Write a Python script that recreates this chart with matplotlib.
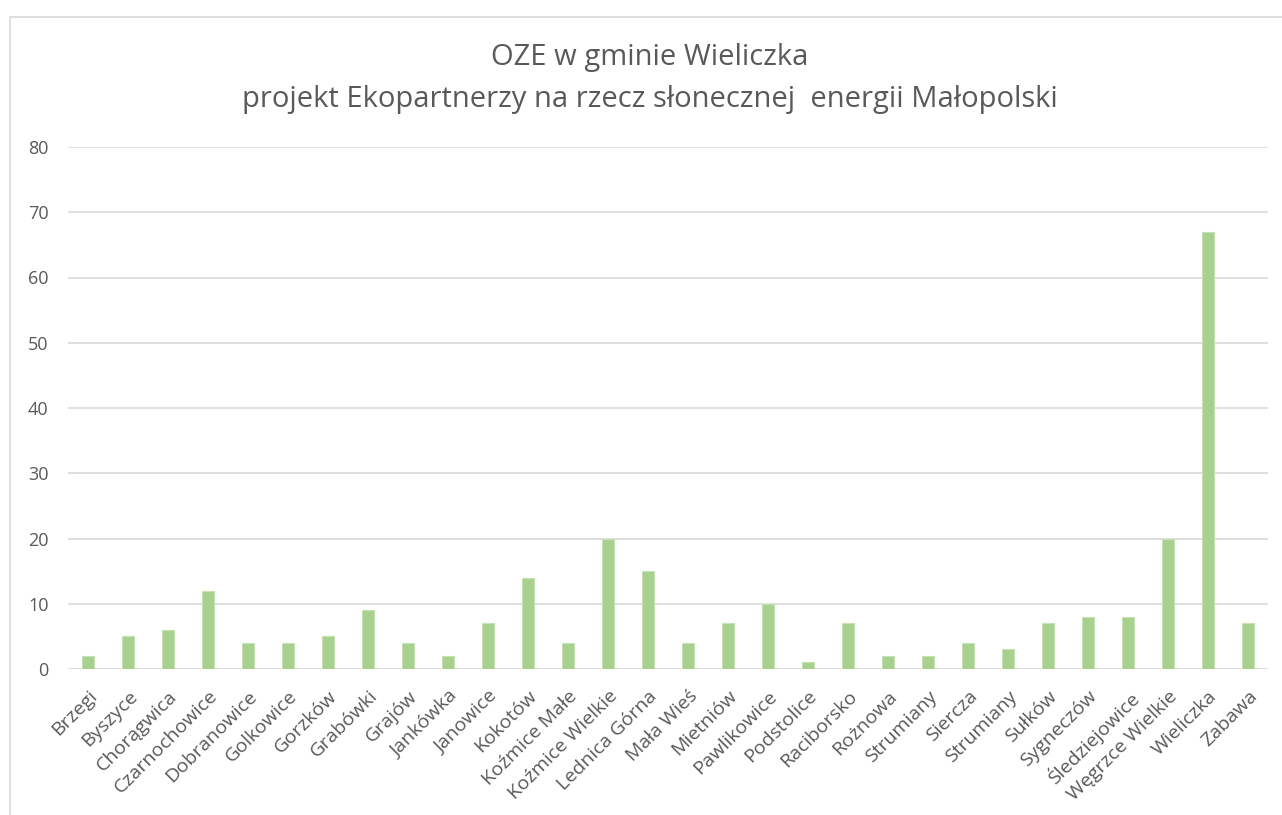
import matplotlib.pyplot as plt
from matplotlib.patches import Rectangle

plt.rcParams['font.family'] = ['Open Sans', 'DejaVu Sans']

miejscowosci = ['Brzegi', 'Byszyce', 'Chorągwica', 'Czarnochowice', 'Dobranowice',
                'Golkowice', 'Gorzków', 'Grabówki', 'Grajów', 'Jankówka', 'Janowice',
                'Kokotów', 'Koźmice Małe', 'Koźmice Wielkie', 'Lednica Górna', 'Mała Wieś',
                'Mietniów', 'Pawlikowice', 'Podstolice', 'Raciborsko', 'Rożnowa', 'Strumiany',
                'Siercza', 'Strumiany', 'Sułków', 'Sygneczów', 'Śledziejowice',
                'Węgrzce Wielkie', 'Wieliczka', 'Zabawa']
liczba = [2, 5, 6, 12, 4, 4, 5, 9, 4, 2, 7, 14, 4, 20, 15, 4, 7, 10, 1, 7, 2, 2,
          4, 3, 7, 8, 8, 20, 67, 7]
yticks = [0, 10, 20, 30, 40, 50, 60, 70, 80]

fig = plt.figure(figsize=(12.82, 8.15), dpi=100)
# ramka wykresu
fig.patches.append(Rectangle((10/1282, -0.1), 1.2, 1 - 17/815 + 0.1,
                             transform=fig.transFigure, fill=False,
                             edgecolor='#d9d9d9', linewidth=1.2))

ax = fig.add_axes([68/1282, 1 - 669/815, 1200/1282, 522/815])
x = range(len(liczba))
ax.bar(x, liczba, width=0.29, color='#a9d18e', edgecolor='#c5e0b4', linewidth=0.8, zorder=3)
ax.set_xlim(-0.5, len(liczba) - 0.5)
ax.set_ylim(0, 80)
ax.set_yticks(yticks)
ax.set_yticklabels([str(v) for v in yticks], fontsize=13, color='#595959')
ax.set_xticks(list(x))
ax.set_xticklabels(miejscowosci, rotation=45, ha='right', rotation_mode='anchor',
                   fontsize=14, color='#595959')
ax.tick_params(axis='both', length=0)
ax.tick_params(axis='y', pad=14)
ax.tick_params(axis='x', pad=13)
ax.grid(axis='y', color='#d9d9d9', linewidth=1.2, zorder=0)
for s in ax.spines.values():
    s.set_visible(False)
ax.axhline(0, color='#d9d9d9', linewidth=1.2, zorder=2)

fig.text(0.507, 1 - 57/815, 'OZE w gminie Wieliczka', ha='center', va='center',
         fontsize=21, color='#595959')
fig.text(0.507, 1 - 99/815, 'projekt Ekopartnerzy na rzecz słonecznej  energii Małopolski',
         ha='center', va='center', fontsize=21, color='#595959')

plt.savefig('out.png', dpi=100)
